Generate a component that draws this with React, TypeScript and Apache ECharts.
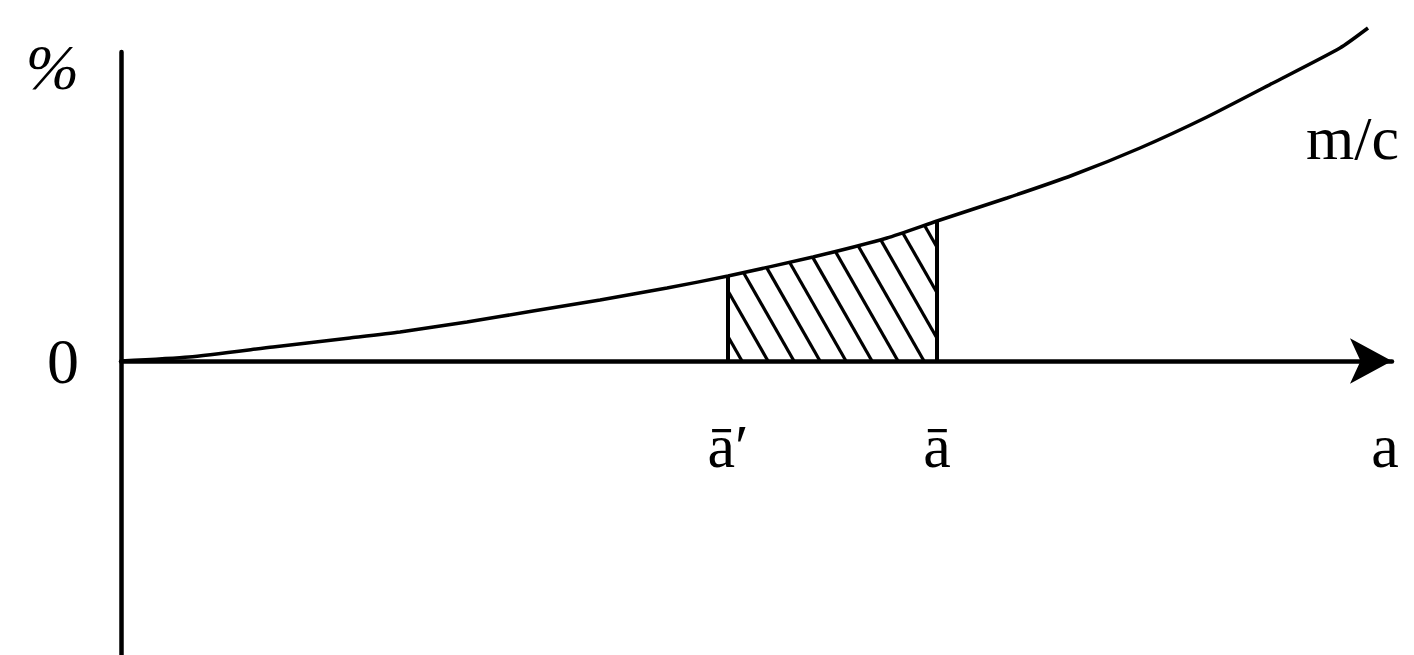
import React, { useEffect, useRef } from "react";
import * as echarts from "echarts";

// Curve m/c (x in horizontal units, y in "%" units)
const curveX = [0, 6.8, 15.2, 22.9, 27.9, 34.6, 41.2, 47.9, 54.6, 60.7, 69.2, 76.6, 81.6, 88.6, 95.2, 101.9, 108.6, 115.2, 121.9, 124.7];
const curveY = [0, 0.4, 1.4, 2.3, 2.9, 3.9, 5.0, 6.1, 7.3, 8.5, 10.4, 12.3, 14.0, 16.3, 18.6, 21.3, 24.4, 27.8, 31.3, 33.3];

// Shaded interval [ā′, ā]
const aPrime = 60.7;
const aBar = 81.6;

// x-axis tick labels
const xTickValues = [60.7, 81.6, 126.4];
const xTickLabels = ["ā′", "ā", "a"];

// y-axis tick labels
const yTickValues = [0, 29.4];
const yTickLabels = ["0", "{p|%}"];

const curveName = "m/c";

const FONT = "'Liberation Serif', 'Times New Roman', serif";

export default function App() {
  const ref = useRef<HTMLDivElement>(null);

  useEffect(() => {
    if (!ref.current) return;
    const chart = echarts.init(ref.current, null, { renderer: "svg" });

    const curveData = curveX.map((x, i) => [x, curveY[i]]);

    const hatchSpacing = 26;
    const hatchSlope = 1.75;
    const hatchStart = 14;

    const yMin = -29.4;
    const yMax = 30.9;
    const gridTop = 52;
    const gridBottom = 0;
    const plotH = 655 - gridTop - gridBottom;
    const zeroOffset = -(plotH * (0 - yMin)) / (yMax - yMin);

    const option: any = {
      animation: false,
      backgroundColor: "#ffffff",
      grid: {
        left: 121,
        right: 22,
        top: gridTop,
        bottom: gridBottom,
        containLabel: false,
        outerBoundsMode: "none",
      },
      xAxis: {
        type: "value",
        min: 0,
        max: 127.1,
        position: "bottom",
        offset: zeroOffset,
        splitLine: { show: false },
        axisTick: { show: false },
        axisLine: {
          show: true,
          onZero: false,
          symbol: ["none", "arrow"],
          symbolSize: [34, 42],
          lineStyle: { color: "#000", width: 4.5 },
        },
        axisLabel: {
          customValues: xTickValues,
          formatter: (v: number) => {
            let best = 0;
            xTickValues.forEach((t, i) => {
              if (Math.abs(t - v) < Math.abs(xTickValues[best] - v)) best = i;
            });
            return xTickLabels[best];
          },
          margin: 54,
          fontSize: 62,
          color: "#000",
          fontFamily: FONT,
        },
      },
      yAxis: {
        type: "value",
        min: yMin,
        max: yMax,
        splitLine: { show: false },
        axisTick: { show: false },
        axisLine: {
          show: true,
          lineStyle: { color: "#000", width: 4.5 },
        },
        axisLabel: {
          customValues: yTickValues,
          formatter: (v: number) => {
            let best = 0;
            yTickValues.forEach((t, i) => {
              if (Math.abs(t - v) < Math.abs(yTickValues[best] - v)) best = i;
            });
            return yTickLabels[best];
          },
          margin: 42,
          fontSize: 64,
          color: "#000",
          fontFamily: FONT,
          rich: {
            p: { fontSize: 64, fontStyle: "italic", fontFamily: FONT, color: "#000" },
          },
        },
      },
      series: [
        {
          type: "line",
          name: curveName,
          data: curveData,
          smooth: 0.2,
          symbol: "none",
          clip: false,
          lineStyle: { color: "#000", width: 3.5 },
          endLabel: {
            show: true,
            formatter: curveName,
            offset: [-70, 110],
            fontSize: 62,
            color: "#000",
            fontFamily: FONT,
          },
          z: 3,
        },
        {
          type: "custom",
          data: [[aPrime, aBar]],
          z: 4,
          renderItem: (params: any, api: any) => {
            const x0 = api.value(0);
            const x1 = api.value(1);
            const pL = api.coord([x0, 0]);
            const pR = api.coord([x1, 0]);
            const base = pL[1];
            const pxL = pL[0];
            const pxR = pR[0];
            const pts = curveData.map((d) => api.coord(d));
            const curvePy = (px: number) => {
              for (let i = 0; i < pts.length - 1; i++) {
                if (px >= pts[i][0] && px <= pts[i + 1][0]) {
                  const t = (px - pts[i][0]) / (pts[i + 1][0] - pts[i][0]);
                  return pts[i][1] + t * (pts[i + 1][1] - pts[i][1]);
                }
              }
              return pts[pts.length - 1][1];
            };
            const lineStyle = { stroke: "#000", lineWidth: 3.2, fill: null };
            const children: any[] = [];
            children.push({
              type: "line",
              shape: { x1: pxL, y1: base, x2: pxL, y2: curvePy(pxL) },
              style: { ...lineStyle, lineWidth: 4 },
            });
            children.push({
              type: "line",
              shape: { x1: pxR, y1: base, x2: pxR, y2: curvePy(pxR) },
              style: { ...lineStyle, lineWidth: 4 },
            });
            const maxB = pxR + (base - curvePy(pxR)) / hatchSlope;
            for (let b = pxL + hatchStart; b < maxB; b += hatchSpacing) {
              const linePy = (px: number) => base - hatchSlope * (b - px);
              const bx = Math.min(b, pxR);
              const by = linePy(bx);
              if (by <= curvePy(bx)) continue;
              const g = (px: number) => linePy(px) - curvePy(px);
              let tx: number;
              if (g(pxL) > 0) {
                tx = pxL;
              } else {
                let lo = pxL;
                let hi = bx;
                for (let k = 0; k < 40; k++) {
                  const mid = (lo + hi) / 2;
                  if (g(mid) > 0) hi = mid;
                  else lo = mid;
                }
                tx = (lo + hi) / 2;
              }
              children.push({
                type: "line",
                shape: { x1: bx, y1: by, x2: tx, y2: linePy(tx) },
                style: lineStyle,
              });
            }
            return { type: "group", children };
          },
        },
      ],
    };

    chart.setOption(option);
    return () => chart.dispose();
  }, []);

  return (
    <div
      ref={ref}
      style={{
        position: "fixed",
        left: 0,
        top: 0,
        width: 1414,
        height: 655,
        background: "#fff",
      }}
    />
  );
}
